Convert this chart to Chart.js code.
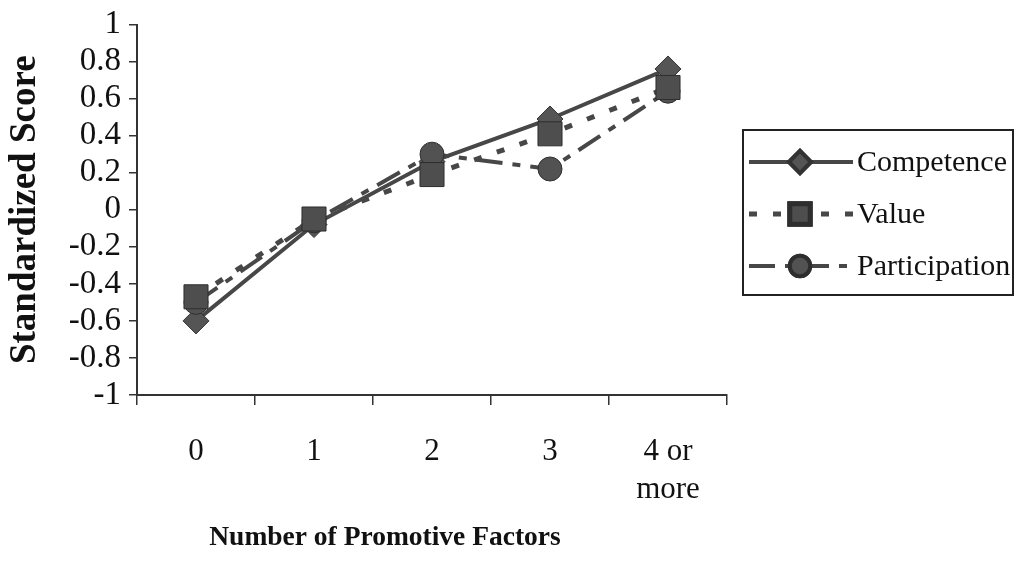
<!DOCTYPE html>
<html>
<head>
<meta charset="utf-8">
<script src="https://cdn.jsdelivr.net/npm/chart.js@4.4.0/dist/chart.umd.min.js"></script>
<style>
  body { margin: 0; background: #fff; }
  #wrap { width: 1023px; height: 571px; }
</style>
</head>
<body>
<div id="wrap"><canvas id="myChart" width="1023" height="571"></canvas></div>
<script>
// Data

let categories = ['0', '1', '2', '3', ['4 or', 'more']];
let seriesNames = ['Competence', 'Value', 'Participation'];
let competence = [-0.6, -0.08, 0.26, 0.49, 0.76];
let value = [-0.47, -0.05, 0.19, 0.41, 0.66];
let participation = [-0.5, -0.06, 0.3, 0.22, 0.64];
let yTickLabels = ['-1', '-0.8', '-0.6', '-0.4', '-0.2', '0', '0.2', '0.4', '0.6', '0.8', '1'];

let serif = "'Liberation Serif', 'Times New Roman', serif";
let ink = '#111';
let gray = '#474747';

// legend with a frame, drawn by hand
let legendBox = {
  id: 'legendBox',
  afterDraw(chart) {
    let ctx = chart.ctx;
    let x0 = 743, y0 = 130, w = 270, h = 165;
    ctx.save();
    ctx.strokeStyle = '#222';
    ctx.lineWidth = 2;
    ctx.strokeRect(x0, y0, w, h);
    chart.data.datasets.forEach(function (ds, i) {
      let y = y0 + 32 + i * 52;
      ctx.strokeStyle = ds.borderColor;
      ctx.lineWidth = ds.borderWidth;
      ctx.setLineDash(ds.borderDash || []);
      ctx.beginPath();
      ctx.moveTo(x0 + 6, y);
      ctx.lineTo(x0 + 110, y);
      ctx.stroke();
      ctx.setLineDash([]);
      Chart.helpers.drawPoint(ctx, {
        pointStyle: ds.pointStyle,
        radius: ds.pointRadius * 0.85,
        borderWidth: ds.pointBorderWidth,
        rotation: 0
      }, x0 + 57, y);
      ctx.fillStyle = ds.pointBackgroundColor;
      ctx.strokeStyle = ds.pointBorderColor;
      ctx.fill();
      ctx.stroke();
      ctx.fillStyle = ink;
      ctx.font = '30px ' + serif;
      ctx.textAlign = 'left';
      ctx.textBaseline = 'middle';
      ctx.fillText(ds.label, x0 + 114, y + 1);
    });
    ctx.restore();
  }
};

// x axis title sits left of the plot centre in the original
let xTitle = {
  id: 'xTitle',
  afterDraw(chart) {
    let ctx = chart.ctx;
    ctx.save();
    ctx.fillStyle = ink;
    ctx.font = 'bold 27.5px ' + serif;
    ctx.textAlign = 'center';
    ctx.textBaseline = 'middle';
    ctx.fillText('Number of Promotive Factors', 385, 538);
    ctx.restore();
  }
};

let ctx = document.getElementById('myChart').getContext('2d');
let myChart = new Chart(ctx, {
  type: 'line',
  data: {
    labels: categories,
    datasets: [
      {
        label: seriesNames[0],
        data: competence,
        borderColor: gray,
        borderWidth: 4,
        pointStyle: 'rectRot',
        pointRadius: 13,
        pointBackgroundColor: '#555',
        pointBorderColor: '#333',
        pointBorderWidth: 1,
        order: 3,
      },
      {
        label: seriesNames[1],
        data: value,
        borderColor: gray,
        borderWidth: 5,
        borderDash: [8, 16],
        pointStyle: 'rect',
        pointRadius: 17,
        pointBackgroundColor: '#4e4e4e',
        pointBorderColor: '#2e2e2e',
        pointBorderWidth: 1,
        order: 1,
      },
      {
        label: seriesNames[2],
        data: participation,
        borderColor: gray,
        borderWidth: 4,
        borderDash: [26, 10, 8, 10],
        pointStyle: 'circle',
        pointRadius: 12,
        pointBackgroundColor: '#525252',
        pointBorderColor: '#2e2e2e',
        pointBorderWidth: 1,
        order: 2,
      },
    ],
  },
  options: {
    responsive: false,
    animation: false,
    layout: {
      padding: { top: 20, right: 296, left: 0, bottom: 0 },
    },
    plugins: {
      legend: { display: false },
      tooltip: { enabled: false },
    },
    scales: {
      x: {
        offset: true,
        grid: {
          offset: true,
          drawOnChartArea: false,
          drawTicks: true,
          tickLength: 10,
          color: '#333',
          lineWidth: 1.5,
        },
        border: { display: true, color: '#333', width: 2 },
        ticks: {
          color: ink,
          padding: 28,
          maxRotation: 0,
          autoSkip: false,
          font: { family: serif, size: 31, lineHeight: 1.23 },
        },
        afterFit(scale) {
          scale.height = 176;
        },
      },
      y: {
        min: -1,
        max: 1,
        ticks: {
          stepSize: 0.2,
          autoSkip: false,
          color: ink,
          padding: 8,
          font: { family: serif, size: 33, lineHeight: 1 },
          callback: function (v, i) {
            return yTickLabels[i];
          },
        },
        grid: {
          drawOnChartArea: false,
          drawTicks: true,
          tickLength: 8,
          color: '#333',
          lineWidth: 1.5,
        },
        border: { display: true, color: '#333', width: 2 },
        title: {
          display: true,
          text: 'Standardized Score',
          color: ink,
          padding: { top: 3, bottom: 0 },
          font: { family: serif, size: 37, weight: 'bold' },
        },
        afterFit(scale) {
          scale.width = 137;
        },
      },
    },
  },
  plugins: [legendBox, xTitle],
});
</script>
</body>
</html>
